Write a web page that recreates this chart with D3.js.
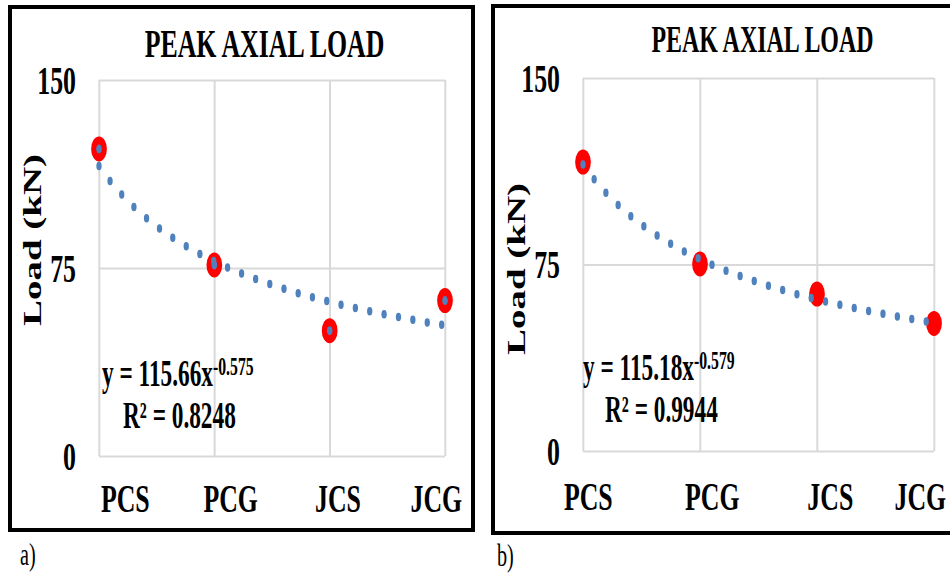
<!DOCTYPE html>
<html>
<head>
<meta charset="utf-8">
<script src="https://cdn.jsdelivr.net/npm/d3@7"></script>
<style>
    html, body { margin: 0; padding: 0; background: #fff; }
    svg { display: block; font-family: "Liberation Serif", "Times New Roman", Times, "DejaVu Serif", serif; }
</style>
</head>
<body>
<script>
// Data
const categories = ['PCS', 'PCG', 'JCS', 'JCG'];
const loadA = [122.5, 76.2, 50.0, 62.0];
const loadB = [116.2, 75.2, 63.1, 51.3];
const yTicks = [0, 75, 150];
const fitCoef = [115.66, 115.18];
const fitExp = [-0.575, -0.579];
const fitR2 = ['0.8248', '0.9944'];
const panelTags = ['a)', 'b)'];
const chartTitle = 'PEAK AXIAL LOAD';
const yTitle = 'Load (kN)';

const FONT = '"Liberation Serif", "Times New Roman", Times, "DejaVu Serif", serif';

// the whole figure is squeezed horizontally
const SX = 0.63;
const W = 950, H = 574;

// Layout (image pixels)
const layouts = [
    { frame: [10, 7, 473, 530], plot: [99, 445, 80, 456], title: [264.5, 57, 41],
      yLab: [41, 240], tickX: 76, catShift: [26, 16, 8, -9], catY: 512,
      eq: [102, 386], r2: [123, 428], tag: [20, 565], hollow: true },
    { frame: [493, 6, 965, 533], plot: [583, 934, 78, 451], title: [762.5, 52, 38],
      yLab: [525, 269], tickX: 560, catShift: [5, 12, 13, -14], catY: 510,
      eq: [583, 380], r2: [605, 422], tag: [497, 566], hollow: false }
];
const series = [loadA, loadB];

const svg = d3.select('body').append('svg')
    .attr('width', W)
    .attr('height', H);

const root = svg.append('g')
    .attr('transform', `scale(${SX},1)`);

layouts.forEach(function (L, k) {
    const g = root.append('g');
    const [left, right, top, bottom] = L.plot;

    // Frame
    g.append('rect')
        .attr('x', L.frame[0] / SX)
        .attr('y', L.frame[1])
        .attr('width', (L.frame[2] - L.frame[0]) / SX)
        .attr('height', L.frame[3] - L.frame[1])
        .attr('fill', 'none')
        .attr('stroke', '#000')
        .attr('stroke-width', 4)
        .attr('vector-effect', 'non-scaling-stroke');

    // Scales
    const x = d3.scalePoint().domain(categories).range([left / SX, right / SX]);
    const xi = d3.scaleLinear().domain([1, 4]).range([left / SX, right / SX]);
    const y = d3.scaleLinear().domain([0, 150]).range([bottom, top]);

    // Y axis + horizontal grid
    const ya = g.append('g')
        .attr('transform', `translate(${left / SX},0)`)
        .call(d3.axisLeft(y).tickValues(yTicks).tickSize(-(right - left) / SX)
            .tickPadding((left - L.tickX) / SX));
    ya.select('.domain').remove();
    ya.selectAll('line')
        .attr('stroke', '#d9d9d9')
        .attr('stroke-width', 2)
        .attr('vector-effect', 'non-scaling-stroke');
    ya.selectAll('text')
        .attr('fill', '#000')
        .attr('font-family', FONT)
        .attr('font-size', 41)
        .attr('font-weight', 'bold');

    // X axis + vertical grid
    const xa = g.append('g')
        .attr('transform', `translate(0,${bottom})`)
        .call(d3.axisBottom(x).tickSize(-(bottom - top)));
    xa.select('.domain').remove();
    xa.selectAll('line')
        .attr('stroke', '#d9d9d9')
        .attr('stroke-width', 2)
        .attr('vector-effect', 'non-scaling-stroke');
    xa.selectAll('text')
        .attr('fill', '#000')
        .attr('font-family', FONT)
        .attr('font-size', 41)
        .attr('font-weight', 'bold')
        .attr('x', (d, i) => L.catShift[i] / SX)
        .attr('y', L.catY - bottom)
        .attr('dy', 0);

    // Title
    g.append('text')
        .attr('x', L.title[0] / SX)
        .attr('y', L.title[1])
        .attr('text-anchor', 'middle')
        .attr('font-size', L.title[2])
        .attr('font-weight', 'bold')
        .text(chartTitle);

    // Y title
    g.append('text')
        .attr('transform', `translate(${L.yLab[0] / SX},${L.yLab[1]}) rotate(-90)`)
        .attr('text-anchor', 'middle')
        .attr('font-size', 39)
        .attr('font-weight', 'bold')
        .text(yTitle);

    // Markers
    g.append('g').selectAll('circle')
        .data(series[k])
        .join('circle')
        .attr('cx', (d, i) => x(categories[i]))
        .attr('cy', d => y(d))
        .attr('r', L.hollow ? 8.5 : 12.5)
        .attr('fill', L.hollow ? '#4f81bd' : '#ff0000')
        .attr('stroke', L.hollow ? '#ff0000' : 'none')
        .attr('stroke-width', L.hollow ? 8 : 0);

    // Power trendline from the fitted equation
    const line = d3.line()
        .x(t => xi(t))
        .y(t => y(fitCoef[k] * Math.pow(t, fitExp[k])))
        .curve(d3.curveMonotoneX);
    g.append('path')
        .datum(d3.range(1, 4.0001, 0.05))
        .attr('d', line)
        .attr('fill', 'none')
        .attr('stroke', '#4f81bd')
        .attr('stroke-width', 8.5)
        .attr('stroke-linecap', 'round')
        .attr('stroke-dasharray', '0 23');

    // Equation
    const eq = g.append('text')
        .attr('x', L.eq[0] / SX)
        .attr('y', L.eq[1])
        .attr('font-size', 37)
        .attr('font-weight', 'bold');
    eq.append('tspan').text(`y = ${fitCoef[k].toFixed(2)}x`);
    eq.append('tspan')
        .attr('font-size', 25)
        .attr('dy', -11)
        .text(fitExp[k].toFixed(3));

    g.append('text')
        .attr('x', L.r2[0] / SX)
        .attr('y', L.r2[1])
        .attr('font-size', 37)
        .attr('font-weight', 'bold')
        .text(`R\u00B2 = ${fitR2[k]}`);

    // Panel tag
    g.append('text')
        .attr('x', L.tag[0] / SX)
        .attr('y', L.tag[1])
        .attr('font-size', 32)
        .text(panelTags[k]);
});
</script>
</body>
</html>
